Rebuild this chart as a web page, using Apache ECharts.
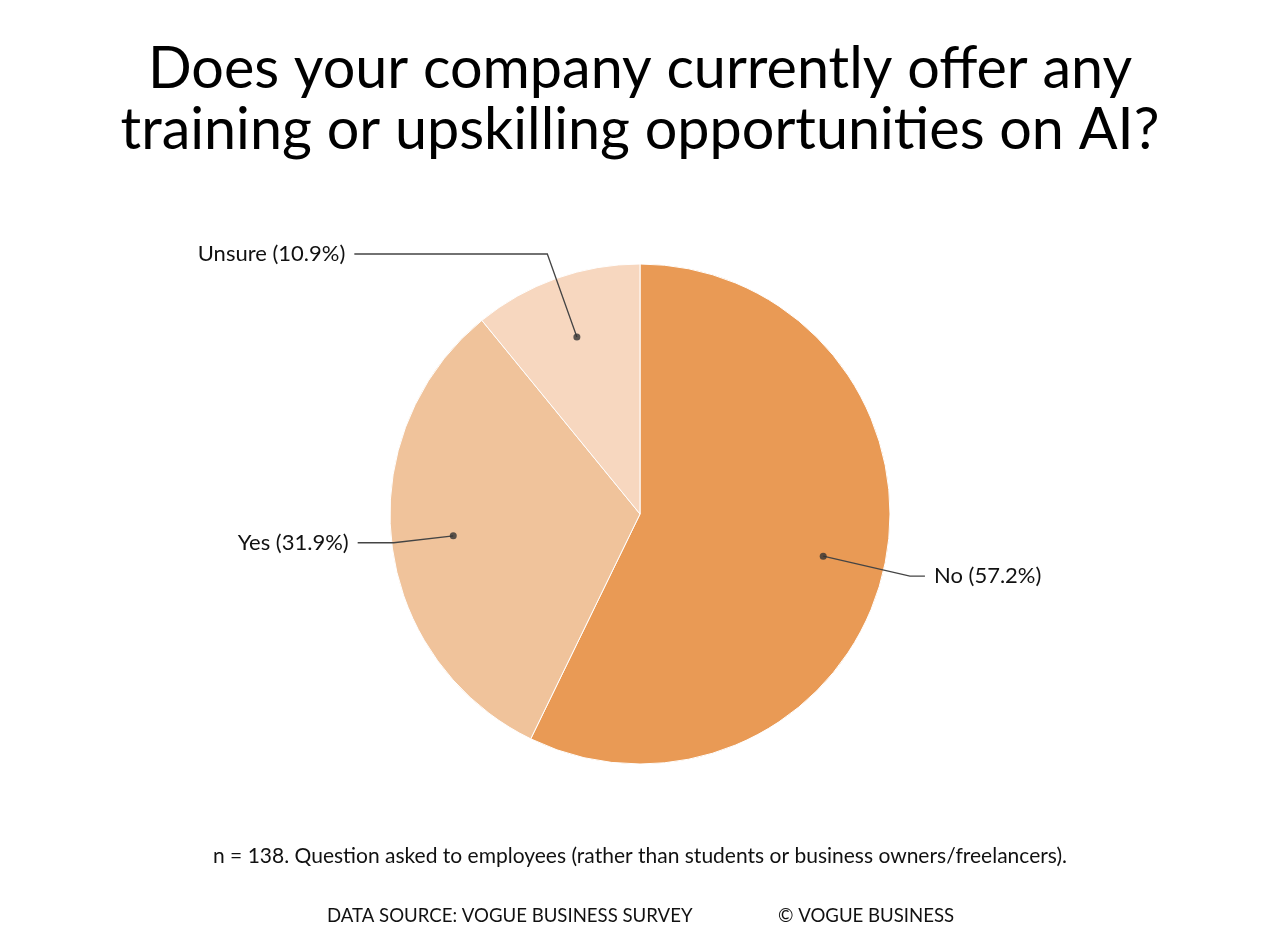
<!DOCTYPE html>
<html>
<head>
<meta charset="utf-8">
<script src="https://cdn.jsdelivr.net/npm/echarts@6/dist/echarts.min.js"></script>
<style>
html,body{margin:0;padding:0;background:#fff;}
#EchartBox{width:1280px;height:939px;}
</style>
</head>
<body>
<div id="EchartBox"></div>
<script>
var categories = ['No', 'Yes', 'Unsure'];
var shares = [57.2, 31.9, 10.9];
var sliceColors = ['#E99A55', '#F0C39B', '#F7D7BF'];
var lineLength = [89, 60, 88];
var lineLength2 = [15, 36, 193];

var titleText = 'Does your company currently offer any\ntraining or upskilling opportunities on AI?';
var noteText = 'n = 138. Question asked to employees (rather than students or business owners/freelancers).';
var sourceText = 'DATA SOURCE: VOGUE BUSINESS SURVEY';
var creditText = '\u00a9 VOGUE BUSINESS';

var fontName = 'Lato, "Liberation Sans", sans-serif';

// data for the main pie and the transparent label pie
var pieData = [];
var labelData = [];
for (var i = 0; i < categories.length; i++) {
	pieData.push({name: categories[i], value: shares[i], itemStyle: {color: sliceColors[i]}});
	labelData.push({
		name: categories[i],
		value: shares[i],
		labelLine: {length: lineLength[i], length2: lineLength2[i]}
	});
}

// dots where the label lines start: mid angle of each slice (cumulative %)
var dotData = [];
var acc = 0;
for (var i = 0; i < shares.length; i++) {
	dotData.push([0.752, acc + shares[i] / 2]);
	acc += shares[i];
}

var myChart = echarts.init(document.getElementById('EchartBox'), null, {renderer: 'canvas'});

var option = {
	backgroundColor: '#fff',
	animation: false,
	title: [
		{
			text: titleText,
			left: 'center',
			top: 34,
			textStyle: {fontFamily: fontName, fontWeight: 'normal', fontSize: 57.5, lineHeight: 61, color: '#000'}
		},
		{
			text: noteText,
			left: 'center',
			top: 841,
			textStyle: {fontFamily: fontName, fontWeight: 'normal', fontSize: 21, color: '#111'}
		},
		{
			text: sourceText,
			left: 322,
			top: 901,
			textStyle: {fontFamily: fontName, fontWeight: 'normal', fontSize: 18.6, color: '#111'}
		},
		{
			text: creditText,
			left: 773,
			top: 901,
			textStyle: {fontFamily: fontName, fontWeight: 'normal', fontSize: 18.6, color: '#111'}
		}
	],
	polar: {center: [640, 514], radius: 250},
	angleAxis: {type: 'value', min: 0, max: 100, startAngle: 90, clockwise: true, show: false},
	radiusAxis: {type: 'value', min: 0, max: 1, show: false},
	series: [
		{
			type: 'pie',
			center: [640, 514],
			radius: 250,
			startAngle: 90,
			clockwise: true,
			silent: true,
			label: {show: false},
			labelLine: {show: false},
			itemStyle: {borderColor: '#fff', borderWidth: 1},
			data: pieData,
			z: 1
		},
		{
			type: 'pie',
			center: [640, 514],
			radius: 188,
			startAngle: 90,
			clockwise: true,
			silent: true,
			avoidLabelOverlap: false,
			itemStyle: {color: 'rgba(0,0,0,0)'},
			label: {
				show: true,
				position: 'outside',
				formatter: '{b} ({c}%)',
				fontFamily: fontName,
				fontSize: 22,
				color: '#111',
				distanceToLabelLine: 9
			},
			labelLine: {show: true, lineStyle: {color: '#444', width: 1.3}},
			data: labelData,
			z: 3
		},
		{
			type: 'scatter',
			coordinateSystem: 'polar',
			symbol: 'circle',
			symbolSize: 7,
			silent: true,
			itemStyle: {color: '#333'},
			data: dotData,
			z: 4
		}
	]
};

myChart.setOption(option);
</script>
</body>
</html>
